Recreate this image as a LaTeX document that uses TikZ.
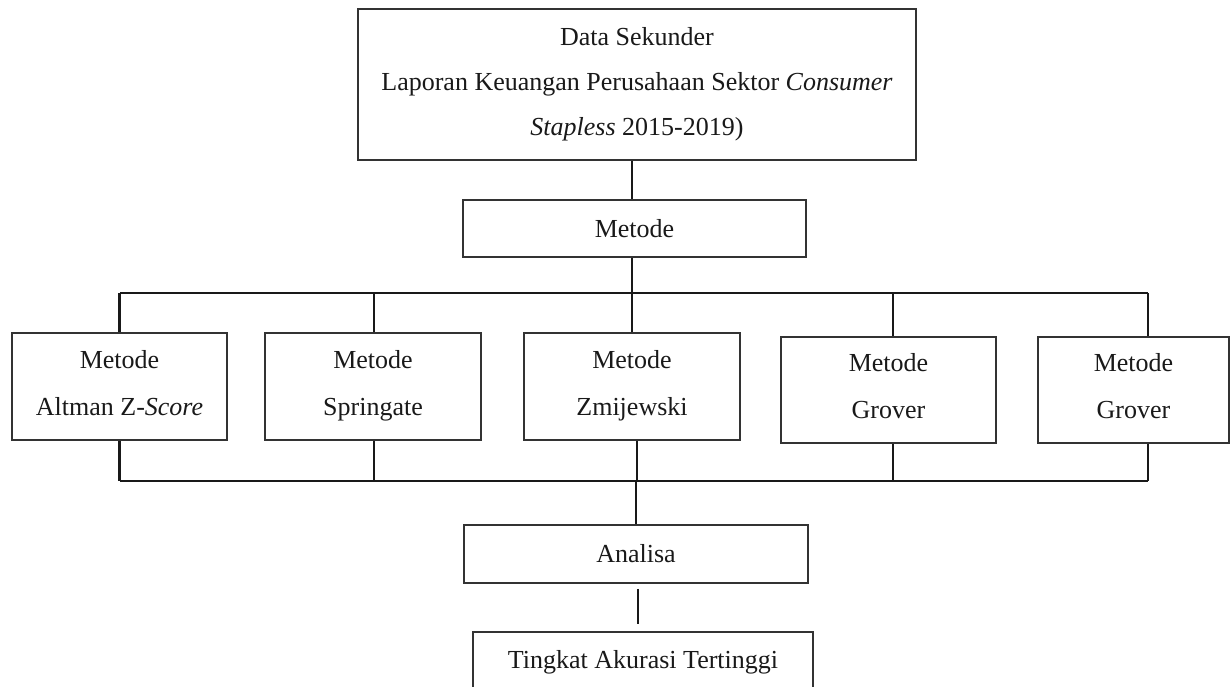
\documentclass[tikz,border=0pt]{standalone}
\usepackage{fontspec}
\setmainfont{Liberation Serif}
\newcommand{\lowpad}{\rule[-8pt]{0pt}{0pt}}
\begin{document}
\begin{tikzpicture}[x=1pt,y=-1pt,
  box/.style={draw=black!80,line width=1.5pt,inner sep=0pt,align=center,
    text=black!90,font=\fontsize{26}{45}\selectfont},
  mbox/.style={box,font=\fontsize{26}{47}\selectfont},
  conn/.style={line width=2.6pt,draw=black!90}]
\clip (0,0) rectangle (1231,687);
\node[box,minimum width=558,minimum height=151] (top) at (637,84.5)
  {Data Sekunder\\Laporan Keuangan Perusahaan Sektor \textit{Consumer}\\\textit{Stapless} 2015-2019)};
\node[box,minimum width=343,minimum height=57] (met) at (634.5,228.5) {Metode};
\node[mbox,minimum width=215,minimum height=107] (m1) at (119.5,386.5) {Metode\\Altman Z-\textit{Score}\lowpad};
\node[mbox,minimum width=216,minimum height=107] (m2) at (373,386.5) {Metode\\Springate\lowpad};
\node[mbox,minimum width=216,minimum height=107] (m3) at (632,386.5) {Metode\\Zmijewski\lowpad};
\node[mbox,minimum width=215,minimum height=106] (m4) at (888.5,390) {Metode\\Grover\lowpad};
\node[mbox,minimum width=191,minimum height=106] (m5) at (1133.5,390) {Metode\\Grover\lowpad};
\node[box,minimum width=344,minimum height=58] (ana) at (636,554) {Analisa};
\node[box,minimum width=340,minimum height=60] (ting) at (643,662) {Tingkat Akurasi Tertinggi};
\coordinate (tl) at (120,293);
\coordinate (tr) at (1148,293);
\coordinate (bl) at (120,481);
\coordinate (br) at (1148,481);
% top part
\draw[conn] ([xshift=-5pt]top.south) -- ([xshift=-2.5pt]met.north);
\draw[conn] ([xshift=-2.5pt]met.south) -- ([xshift=-2.5pt]met.south |- tl);
\draw[conn] (tl) -- (tr);
\draw[conn] (m1.north) -- (m1.north |- tl);
\draw[conn] ([xshift=1pt]m2.north) -- ([xshift=1pt]m2.north |- tl);
\draw[conn] (m3.north) -- (m3.north |- tl);
\draw[conn] ([xshift=4.5pt]m4.north) -- ([xshift=4.5pt]m4.north |- tl);
\draw[conn] ([xshift=14.5pt]m5.north) -- ([xshift=14.5pt]m5.north |- tl);
% bottom part
\draw[conn] (bl) -- (br);
\draw[conn] (m1.south) -- (m1.south |- bl);
\draw[conn] ([xshift=1pt]m2.south) -- ([xshift=1pt]m2.south |- bl);
\draw[conn] ([xshift=5pt]m3.south) -- ([xshift=5pt]m3.south |- bl);
\draw[conn] ([xshift=4.5pt]m4.south) -- ([xshift=4.5pt]m4.south |- bl);
\draw[conn] ([xshift=14.5pt]m5.south) -- ([xshift=14.5pt]m5.south |- bl);
\draw[conn] (ana.north |- bl) -- (ana.north);
\draw[conn,shorten <=5pt,shorten >=7pt] ([xshift=2pt]ana.south) -- ([xshift=2pt]ana.south |- ting.north);
\end{tikzpicture}
\end{document}
